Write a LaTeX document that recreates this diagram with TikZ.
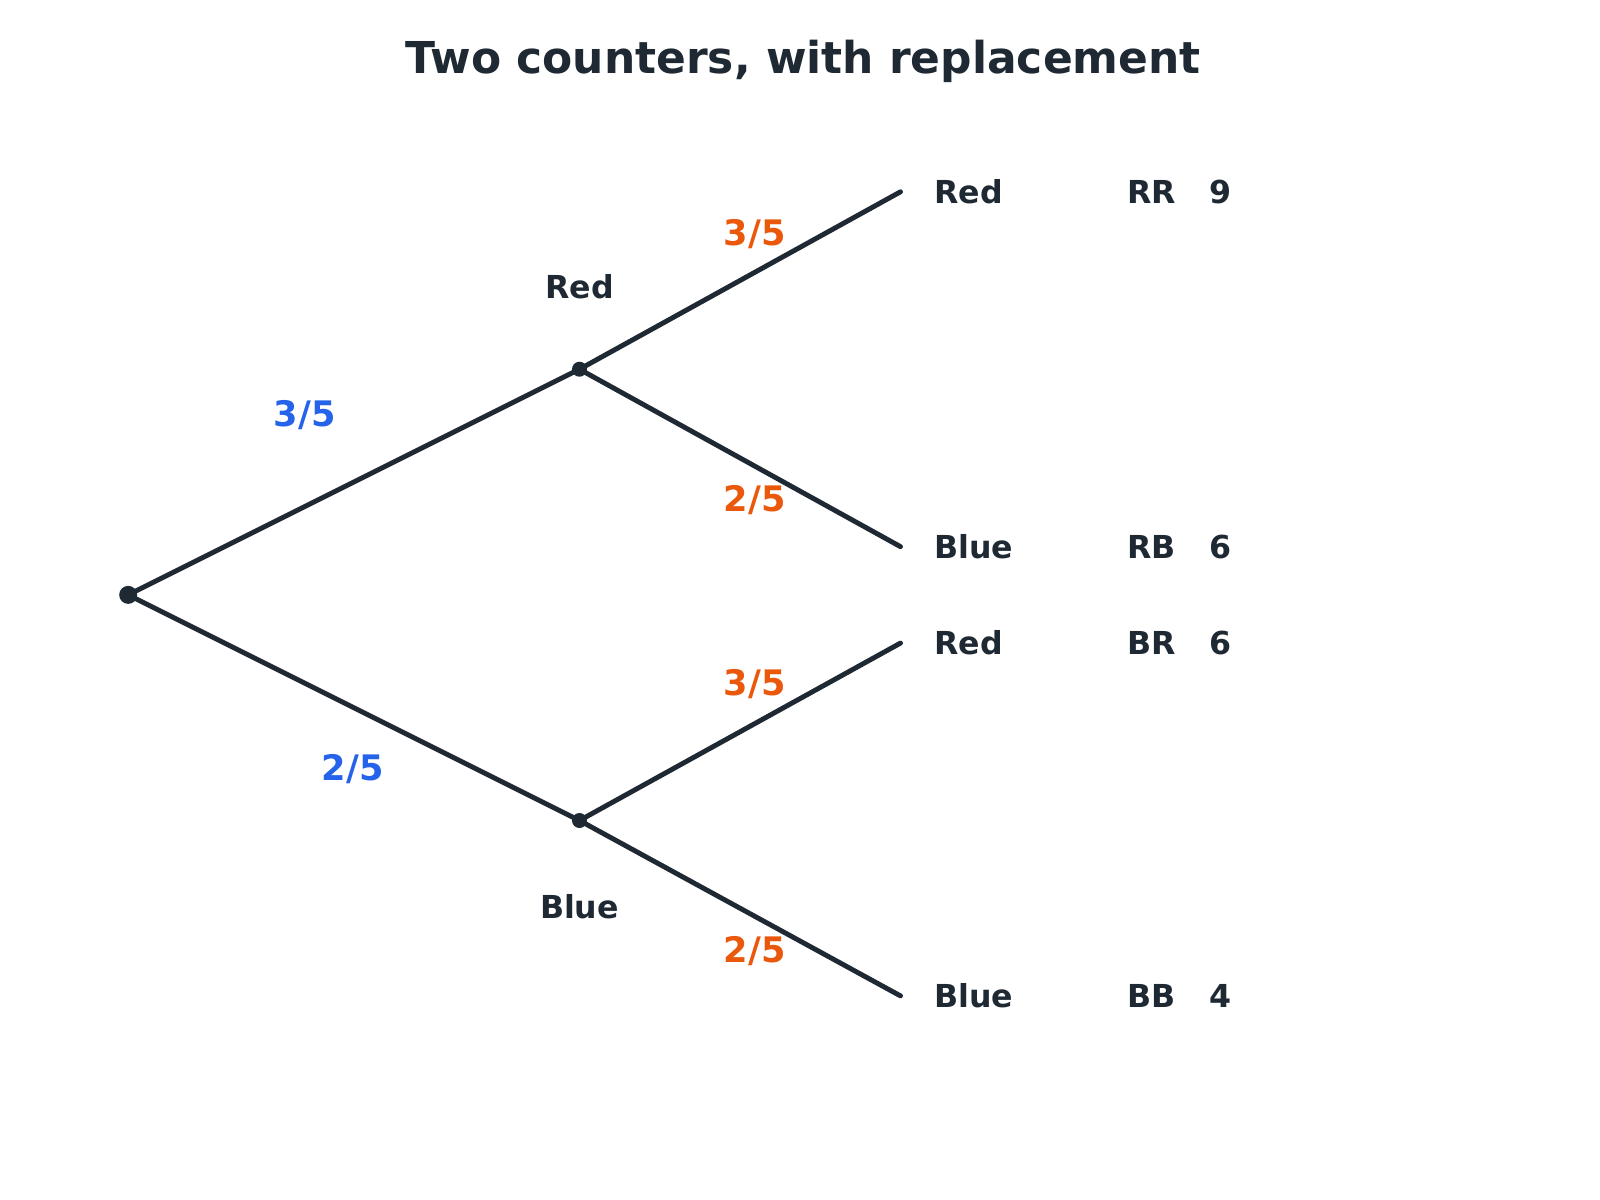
\documentclass[tikz,border=0pt]{standalone}
\usepackage{fontspec}
\setmainfont{DejaVu Sans}
\usetikzlibrary{positioning}
\definecolor{ink}{HTML}{1F2933}
\definecolor{firstp}{HTML}{2563EB}
\definecolor{secondp}{HTML}{EA580C}
\begin{document}
\begin{tikzpicture}[
    x=0.01026cm, y=-0.01026cm,
    branch/.style={draw=ink, line width=1.4pt, line cap=round},
    dot/.style={circle, fill=ink, inner sep=0pt, minimum size=#1},
    outcome/.style={font=\fontsize{9}{11}\selectfont\bfseries, text=ink, anchor=west, inner sep=0pt},
    prob1/.style={font=\fontsize{10}{12}\selectfont\bfseries, text=firstp},
    prob2/.style={font=\fontsize{10}{12}\selectfont\bfseries, text=secondp}
]
    \useasboundingbox (0,0) rectangle (1560,1170);
    \node[font=\fontsize{12.5}{15}\selectfont\bfseries, text=ink] (title) at (783,60) {Two counters, with replacement};

    % tree nodes
    \node[dot=1.8mm] (root) at (125,580) {};
    \node[dot=1.5mm] (red) at (565,360) {};
    \node[dot=1.5mm] (blue) at (565,800) {};
    \coordinate (rr) at (878,187);
    \coordinate (rb) at (878,533);
    \coordinate (br) at (878,627);
    \coordinate (bb) at (878,971);

    % branches
    \draw[branch] (root.center) -- (red.center);
    \draw[branch] (root.center) -- (blue.center);
    \draw[branch] (red.center) -- (rr);
    \draw[branch] (red.center) -- (rb);
    \draw[branch] (blue.center) -- (br);
    \draw[branch] (blue.center) -- (bb);

    % probabilities
    \node[prob1] at (297,405) {3/5};
    \node[prob1] at (344,750) {2/5};
    \node[prob2] at (736,228) {3/5};
    \node[prob2] at (736,488) {2/5};
    \node[prob2] at (736,667) {3/5};
    \node[prob2] at (736,927) {2/5};

    % first draw labels
    \node[outcome, anchor=center] (redlab) at (565,280) {Red};
    \node[outcome, anchor=center] (bluelab) at (565,884) {Blue};

    % outcomes
    \foreach \c/\n/\o/\p in {rr/Red/RR/9/25, rb/Blue/RB/6/25, br/Red/BR/6/25, bb/Blue/BB/4/25}{
        \node[outcome] (\c-name) at ([xshift=0.33cm]\c) {\n};
        \node[outcome] (\c-code) at ([xshift=2.26cm]\c) {\o};
        \node[outcome] (\c-prob) at ([xshift=3.08cm]\c) {\p};
    }
\end{tikzpicture}
\end{document}
